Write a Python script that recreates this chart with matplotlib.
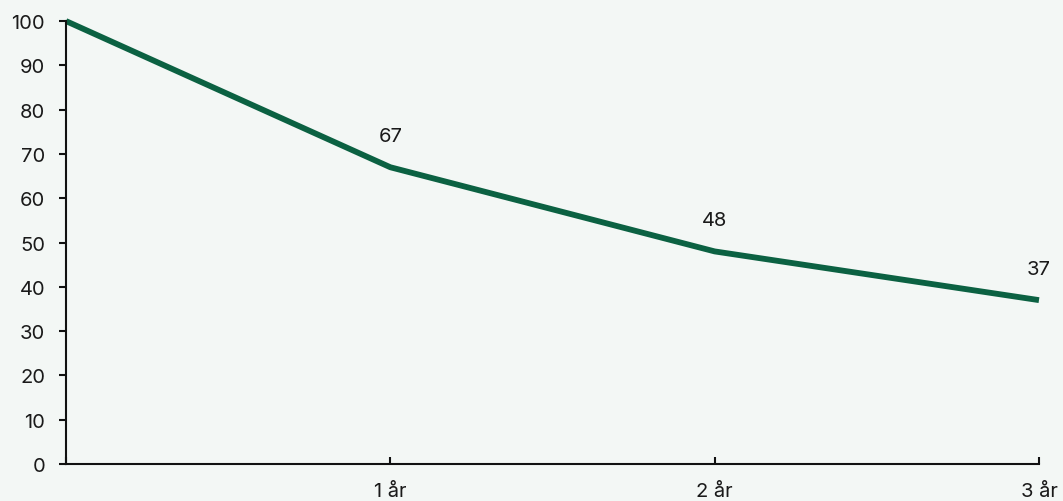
import numpy as np
import matplotlib.pyplot as plt

plt.rcParams['font.family'] = ['Inter', 'DejaVu Sans']

# data
periods = [0, 1, 2, 3]
period_labels = ["", "1 år", "2 år", "3 år"]
values = [100, 67, 48, 37]
point_labels = ["", "67", "48", "37"]

bg = '#f3f7f5'
green = '#0b6142'

fig = plt.figure(figsize=(10.63, 5.02), dpi=100, facecolor=bg)
ax = fig.add_axes([0.0621, 0.0737, 0.9153, 0.8823], facecolor=bg)

ax.plot(periods, values, color=green, linewidth=4.2, solid_capstyle='butt', clip_on=False)

for x, y, lab in zip(periods, values, point_labels):
    if lab:
        ax.annotate(lab, (x, y), xytext=(0, 16), textcoords='offset points',
                    ha='center', va='bottom', fontsize=14.5, color='#1a1a1a')

ax.set_xlim(0, 3)
ax.set_ylim(0, 100)
ax.set_yticks(np.arange(0, 101, 10))
ax.set_xticks(periods)
ax.set_xticklabels(period_labels)

for s in ['top', 'right']:
    ax.spines[s].set_visible(False)
for s in ['left', 'bottom']:
    ax.spines[s].set_linewidth(1.5)
    ax.spines[s].set_color('#111111')

ax.tick_params(axis='y', direction='out', length=5, width=1.5, labelsize=14.5,
               pad=10, colors='#111111', labelcolor='#1a1a1a')
ax.tick_params(axis='x', direction='in', length=5, width=1.5, labelsize=14.5,
               pad=13, colors='#111111', labelcolor='#1a1a1a')

fig.savefig('out.png', dpi=100, facecolor=bg)
